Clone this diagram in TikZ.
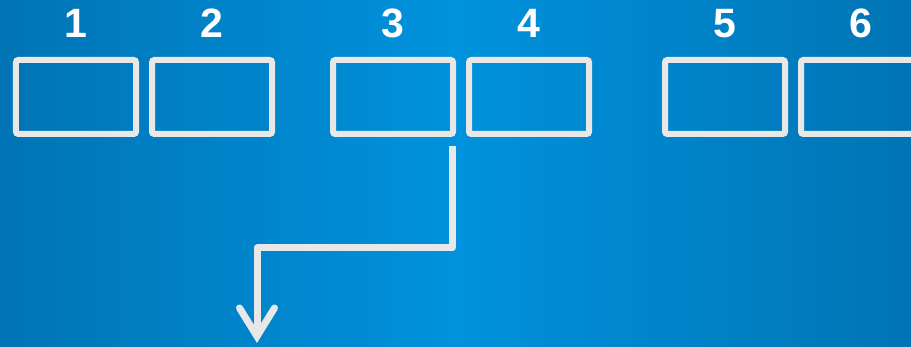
\documentclass[tikz,border=0pt]{standalone}
\usepackage{fontspec}
\setmainfont{Liberation Sans}
\definecolor{bgBlue}{RGB}{0,146,221}
\definecolor{bgDark}{RGB}{0,116,180}
\definecolor{frameGray}{RGB}{232,232,232}
\usetikzlibrary{arrows.meta, positioning}

\begin{document}
\begin{tikzpicture}[
    x=0.03cm, y=-0.03cm,
    node distance=0.48cm,
    slot/.style={draw=frameGray, line width=0.18cm, rounded corners=2pt,
                 minimum width=3.6cm, minimum height=2.22cm,
                 outer sep=0pt, inner sep=0pt},
    num/.style={text=white, font=\fontsize{35}{35}\selectfont\bfseries,
                inner sep=0pt},
    flow/.style={draw=frameGray, line width=0.21cm, line join=round,
                 -{Straight Barb[length=0.85cm, width=1.05cm, line cap=round]}}
  ]
    \useasboundingbox (0,0) rectangle (911,347);
    \clip (0,0) rectangle (911,347);
    \shade[left color=bgDark, right color=bgDark, middle color=bgBlue]
      (0,0) rectangle (911,347);

    % row of slots
    \node[slot] (b1) at (76,97) {};
    \node[slot, right=of b1] (b2) {};
    \node[slot, right=1.83cm of b2] (b3) {};
    \node[slot, right=of b3] (b4) {};
    \node[slot, right=2.28cm of b4] (b5) {};
    \node[slot, right=of b5] (b6) {};

    % numbers
    \node[num, above=0.66cm of b1] (n1) {1};
    \node[num, above=0.66cm of b2] (n2) {2};
    \node[num, above=0.66cm of b3] (n3) {3};
    \node[num, above=0.66cm of b4] (n4) {4};
    \node[num, above=0.66cm of b5] (n5) {5};
    \node[num, above=0.66cm of b6] (n6) {6};

    % connector out of slot 3
    \coordinate (start) at ([xshift=-0.03cm, yshift=-0.36cm]b3.south east);
    \coordinate (bend) at (257,248);
    \coordinate (tip) at (257,343);
    \draw[flow] (start) -- (start |- bend) -| (tip);
  \end{tikzpicture}
\end{document}
